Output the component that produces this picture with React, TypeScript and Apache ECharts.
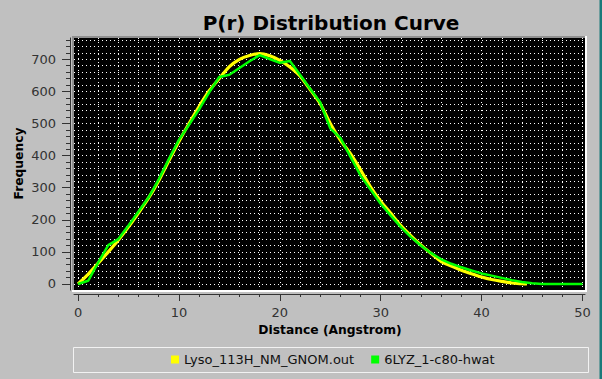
import React, { useEffect, useRef } from 'react';
import * as echarts from 'echarts';

const seriesNames = ['Lyso_113H_NM_GNOM.out', '6LYZ_1-c80-hwat'];

// GNOM P(r) (yellow)
const gnomDistance = [0, 1, 2, 3, 4, 5, 6, 7, 8, 9, 10, 11, 12, 13, 14, 15, 16, 17, 18, 19, 20, 21, 22, 23, 24, 25, 26, 27, 28, 29, 30, 31, 32, 33, 34, 35, 36, 37, 38, 39, 40, 41, 42, 43, 44, 44.5];
const gnomFrequency = [0, 30, 65, 100, 137, 178, 222, 268, 322, 384, 444, 500, 553, 602, 640, 677, 700, 712, 718, 711, 697, 676, 648, 606, 562, 500, 448, 406, 356, 302, 258, 220, 182, 150, 121, 95, 70, 56, 43, 32, 22, 14, 8, 3, 1, 0];

// 6LYZ model P(r) (green)
const modelDistance = [0, 1, 2, 3, 4, 5, 6, 7, 8, 9, 10, 11, 12, 13, 14, 15, 16, 17, 18, 19, 20, 21, 22, 23, 24, 25, 26, 27, 28, 29, 30, 31, 32, 33, 34, 35, 36, 37, 38, 39, 40, 41, 42, 43, 44, 45, 46, 47, 48, 49, 50];
const modelFrequency = [0, 10, 67, 121, 140, 182, 226, 270, 326, 389, 449, 496, 544, 597, 645, 652, 673, 694, 713, 701, 689, 695, 652, 608, 566, 485, 455, 397, 338, 294, 250, 213, 177, 146, 119, 96, 77, 63, 52, 42, 33, 26, 19, 12, 6, 2, 0, 0, 0, 0, 0];

const xMajorTicks = [0, 10, 20, 30, 40, 50];
const xMinorTicks = [0, 2, 4, 6, 8, 10, 12, 14, 16, 18, 20, 22, 24, 26, 28, 30, 32, 34, 36, 38, 40, 42, 44, 46, 48, 50];
const yMajorTicks = [0, 100, 200, 300, 400, 500, 600, 700];
const yMinorTicks = [0, 20, 40, 60, 80, 100, 120, 140, 160, 180, 200, 220, 240, 260, 280, 300, 320, 340, 360, 380, 400, 420, 440, 460, 480, 500, 520, 540, 560, 580, 600, 620, 640, 660, 680, 700, 720, 740, 760];

const FONT = 'DejaVu Sans';
const AXIS_COLOR = '#333333';

export default function App() {
  const ref = useRef<HTMLDivElement>(null);

  useEffect(() => {
    document.body.style.margin = '0';
    const chart = echarts.init(ref.current as HTMLDivElement, null, { renderer: 'svg' });
    const xMin = -0.4;
    const xMax = 50.25;
    const yMin = -18.7;
    const yMax = 766.4;
    const gridLine = { show: true, lineStyle: { color: '#ffffff', width: 1, type: [1, 3] } };

    chart.setOption({
      animation: false,
      backgroundColor: '#c0c0c0',
      graphic: [
        { type: 'rect', z: -10, shape: { x: 72, y: 36, width: 515, height: 256 }, style: { fill: '#ffffff' } },
        { type: 'rect', z: -9, shape: { x: 72, y: 36, width: 513, height: 254 }, style: { fill: '#909090' } },
        { type: 'rect', z: -8, shape: { x: 74, y: 38, width: 511, height: 252 }, style: { fill: '#000000' } },
        { type: 'rect', z: -8, shape: { x: 73.5, y: 347.5, width: 515, height: 25 }, style: { fill: 'none', stroke: '#f2f2f2', lineWidth: 1 } },
        { type: 'rect', z: -8, shape: { x: 599.5, y: 0, width: 3, height: 379 }, style: { fill: '#1a7a7a' } },
        {
          type: 'text', x: 331, y: 23,
          style: { text: 'P(r) Distribution Curve', fill: '#000000', font: `bold 20px "${FONT}"`, textAlign: 'center', textVerticalAlign: 'middle' },
        },
        {
          type: 'text', x: 330, y: 330,
          style: { text: 'Distance (Angstrom)', fill: '#000000', font: `bold 12.3px "${FONT}"`, textAlign: 'center', textVerticalAlign: 'middle' },
        },
        {
          type: 'text', x: 19, y: 163.5, rotation: Math.PI / 2,
          style: { text: 'Frequency', fill: '#000000', font: `bold 12.3px "${FONT}"`, textAlign: 'center', textVerticalAlign: 'middle' },
        },
      ],
      grid: { left: 74, top: 38, width: 511, height: 252, show: false, containLabel: false },
      legend: {
        left: 171, top: 353, padding: 0,
        itemWidth: 8, itemHeight: 8, itemGap: 17, icon: 'rect',
        selectedMode: false,
        data: seriesNames,
        textStyle: { fontFamily: FONT, fontSize: 13, color: '#111111' },
      },
      xAxis: [
        {
          type: 'value', min: xMin, max: xMax, position: 'bottom', offset: 4,
          axisLine: { show: false, onZero: false },
          axisTick: { show: true, customValues: xMinorTicks, length: 3, lineStyle: { color: AXIS_COLOR } },
          axisLabel: { show: false },
          splitLine: gridLine,
        },
        {
          type: 'value', min: xMin, max: xMax, position: 'bottom', offset: 4,
          axisLine: { show: true, onZero: false, lineStyle: { color: AXIS_COLOR } },
          axisTick: { show: true, customValues: xMajorTicks, length: 7, lineStyle: { color: AXIS_COLOR } },
          axisLabel: { customValues: xMajorTicks, margin: 12, fontFamily: FONT, fontSize: 13, color: '#333333' },
          splitLine: { show: false },
        },
      ],
      yAxis: [
        {
          type: 'value', min: yMin, max: yMax, position: 'left', offset: 4,
          axisLine: { show: true, onZero: false, lineStyle: { color: AXIS_COLOR } },
          axisTick: { show: true, customValues: yMinorTicks, length: 4, lineStyle: { color: AXIS_COLOR } },
          axisLabel: { show: false },
          splitLine: gridLine,
        },
        {
          type: 'value', min: yMin, max: yMax, position: 'left', offset: 4,
          axisLine: { show: false, onZero: false },
          axisTick: { show: true, customValues: yMajorTicks, length: 8, lineStyle: { color: AXIS_COLOR } },
          axisLabel: { customValues: yMajorTicks, margin: 14, fontFamily: FONT, fontSize: 13, color: '#333333' },
          splitLine: { show: false },
        },
      ],
      series: [
        {
          name: seriesNames[0], type: 'line', xAxisIndex: 0, yAxisIndex: 0,
          data: gnomDistance.map((r, i) => [r, gnomFrequency[i]]),
          showSymbol: false, smooth: 0.2,
          color: '#ffff00',
          lineStyle: { color: '#ffff00', width: 3.2 },
        },
        {
          name: seriesNames[1], type: 'line', xAxisIndex: 0, yAxisIndex: 0,
          data: modelDistance.map((r, i) => [r, modelFrequency[i]]),
          showSymbol: false,
          color: '#00ff00',
          lineStyle: { color: '#00ff00', width: 2.5 },
        },
      ],
    });
    return () => chart.dispose();
  }, []);

  return <div ref={ref} style={{ width: 602, height: 379 }} />;
}
